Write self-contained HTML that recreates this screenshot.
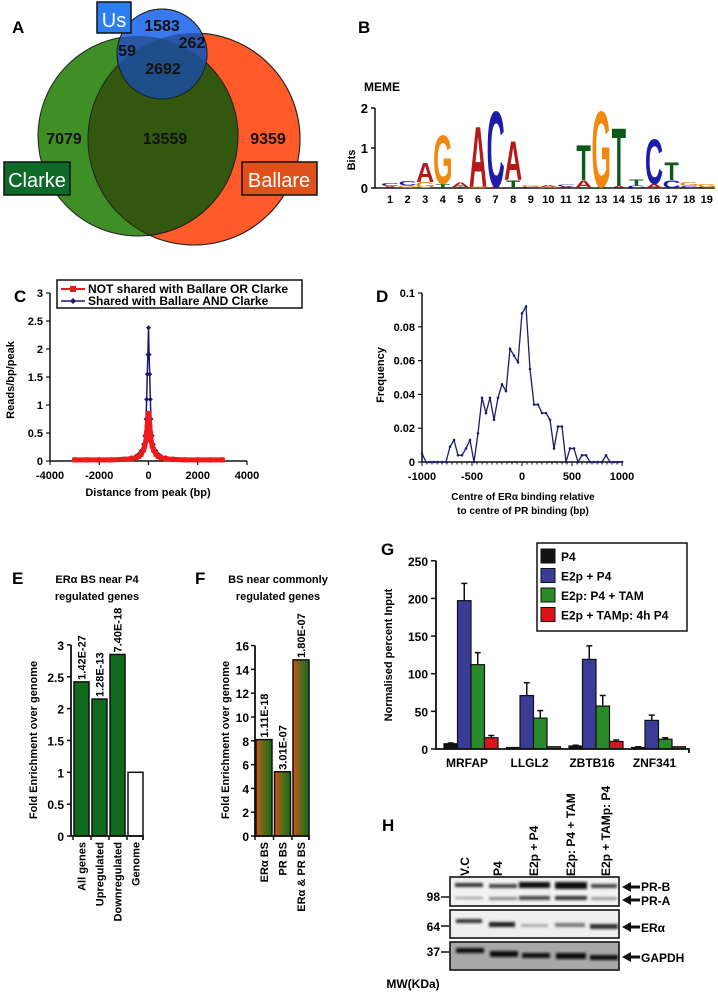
<!DOCTYPE html>
<html><head><meta charset="utf-8">
<style>
html,body{margin:0;padding:0;background:#fff;}
svg{display:block;font-family:"Liberation Sans",Arial,sans-serif;font-weight:bold;}
</style></head>
<body>
<svg id="fig" width="718" height="992" viewBox="0 0 718 992" xmlns="http://www.w3.org/2000/svg">
<defs>
<linearGradient id="gradF" x1="0" x2="1" y1="0" y2="0"><stop offset="0" stop-color="#d8501a"/><stop offset="0.5" stop-color="#5a6a1a"/><stop offset="1" stop-color="#1a6a1a"/></linearGradient>
<clipPath id="clipOrange"><circle cx="194" cy="139" r="106"/></clipPath>
<clipPath id="clipGreen"><circle cx="138" cy="136" r="100"/></clipPath>
<clipPath id="clipUnion"><circle cx="138" cy="136" r="100"/><circle cx="194" cy="139" r="106"/></clipPath>
<filter id="blur1"><feGaussianBlur stdDeviation="1.2"/></filter>
</defs>

<!-- Panel A: Venn -->
<g>
<text x="12" y="33" font-size="17">A</text>
<circle cx="194" cy="139" r="106" fill="#ff5a28" stroke="#222" stroke-width="1"/>
<circle cx="138" cy="136" r="100" fill="#3f8f27" stroke="#222" stroke-width="1"/>
<circle cx="138" cy="136" r="100" fill="#32580f" clip-path="url(#clipOrange)" stroke="#222" stroke-width="1"/>
<circle cx="194" cy="139" r="106" fill="none" stroke="#222" stroke-width="1"/>
<circle cx="162" cy="54" r="45" fill="#3a78f0" stroke="#222" stroke-width="1"/>
<circle cx="162" cy="54" r="45" fill="#2c55a8" clip-path="url(#clipUnion)"/>
<g clip-path="url(#clipGreen)"><circle cx="162" cy="54" r="45" fill="#1f4f8a" clip-path="url(#clipOrange)"/></g>
<circle cx="162" cy="54" r="45" fill="none" stroke="#222" stroke-width="1"/>
<rect x="97" y="2" width="34" height="31" fill="#2a80f0" stroke="#111" stroke-width="1.5"/>
<text x="114" y="27" font-size="20" fill="#fff" text-anchor="middle" font-weight="normal">Us</text>
<rect x="4" y="162" width="66" height="33" fill="#0f6a2a" stroke="#111" stroke-width="1.5"/>
<text x="37" y="187" font-size="20" fill="#fff" text-anchor="middle" font-weight="normal">Clarke</text>
<rect x="242" y="162" width="75" height="33" fill="#e0501a" stroke="#111" stroke-width="1.5"/>
<text x="279" y="187" font-size="20" fill="#fff" text-anchor="middle" font-weight="normal">Ballare</text>
<g font-size="16" fill="#111" text-anchor="middle">
<text x="162" y="31">1583</text>
<text x="127" y="56">59</text>
<text x="192" y="48">262</text>
<text x="163" y="74">2692</text>
<text x="64" y="144">7079</text>
<text x="165" y="144">13559</text>
<text x="268" y="144">9359</text>
</g>
</g>

<!-- Panel B: motif -->
<g id="panelB">
<text x="358" y="33" font-size="17">B</text>
<text x="364" y="91" font-size="12">MEME</text>
<text transform="translate(355,160) rotate(-90)" font-size="11" text-anchor="middle">Bits</text>
</g>

<g id="panelC">
<text x="14" y="302" font-size="17">C</text>
</g>
<g id="panelD">
<text x="376" y="302" font-size="17">D</text>
</g>
<g id="panelE">
<text x="12" y="584" font-size="17">E</text>
<text x="97" y="583" font-size="11" text-anchor="middle">ERα BS near P4</text>
<text x="97" y="600" font-size="11" text-anchor="middle">regulated genes</text>
</g>
<g id="panelF">
<text x="195" y="584" font-size="17">F</text>
<text x="278" y="583" font-size="11" text-anchor="middle">BS near commonly</text>
<text x="278" y="600" font-size="11" text-anchor="middle">regulated genes</text>
</g>
<g id="panelG">
<text x="381" y="555" font-size="17">G</text>
</g>

<!-- Panel H: western blot -->
<g>
<text x="382" y="831" font-size="17">H</text>
<g font-size="12">
<text transform="translate(469,876) rotate(-90)">V.C</text>
<text transform="translate(502,876) rotate(-90)">P4</text>
<text transform="translate(538,876) rotate(-90)">E2p + P4</text>
<text transform="translate(575,876) rotate(-90)">E2p: P4 + TAM</text>
<text transform="translate(610,876) rotate(-90)">E2p + TAMp: P4</text>
</g>
<rect x="450" y="877" width="169" height="29" fill="#f2f2f2" stroke="#111" stroke-width="1.6"/>
<rect x="450" y="910" width="169" height="28" fill="#efefef" stroke="#111" stroke-width="1.6"/>
<rect x="450" y="942" width="169" height="28" fill="#a8a8a8" stroke="#111" stroke-width="1.6"/>
<g filter="url(#blur1)">
<rect x="455" y="883" width="28" height="4" fill="#333"/><rect x="489" y="884" width="28" height="4" fill="#444"/><rect x="519" y="882" width="31" height="6" fill="#111"/><rect x="555" y="882" width="32" height="7" fill="#0a0a0a"/><rect x="591" y="884" width="26" height="4" fill="#444"/>
<rect x="455" y="897" width="28" height="2" fill="#999"/><rect x="489" y="897" width="28" height="3" fill="#888"/><rect x="519" y="896" width="31" height="4" fill="#444"/><rect x="555" y="896" width="32" height="4" fill="#333"/><rect x="591" y="897" width="26" height="3" fill="#999"/>
<rect x="456" y="919" width="26" height="4" fill="#333"/><rect x="489" y="922" width="26" height="5" fill="#222"/><rect x="521" y="924" width="27" height="3" fill="#aaa"/><rect x="555" y="923" width="30" height="4" fill="#777"/><rect x="590" y="924" width="28" height="5" fill="#333"/>
<rect x="456" y="948" width="28" height="5" fill="#111"/><rect x="490" y="951" width="28" height="6" fill="#111"/><rect x="522" y="953" width="28" height="5" fill="#111"/><rect x="556" y="953" width="30" height="6" fill="#111"/><rect x="590" y="955" width="28" height="5" fill="#111"/>
</g>
<g font-size="12" text-anchor="end">
<text x="440" y="901">98</text>
<text x="440" y="931">64</text>
<text x="440" y="956">37</text>
</g>
<path d="M441 897h8M441 926h8M441 952h8" stroke="#111" stroke-width="1.5"/>
<text x="413" y="988" font-size="12" text-anchor="middle">MW(KDa)</text>
<g fill="#111">
<path d="M622 887l9-5v3.5h9v3h-9v3.5z"/><path d="M622 900l9-5v3.5h9v3h-9v3.5z"/>
<path d="M622 927l9-5v3.5h9v3h-9v3.5z"/><path d="M622 957l9-5v3.5h9v3h-9v3.5z"/>
</g>
<g font-size="12">
<text x="641" y="891">PR-B</text>
<text x="641" y="905">PR-A</text>
<text x="641" y="932">ERα</text>
<text x="641" y="962">GAPDH</text>
</g>
</g>
</svg>

<script>
var NS = "http://www.w3.org/2000/svg";
function mk(tag, attrs, parent){ var e=document.createElementNS(NS,tag); for(var k in attrs){e.setAttribute(k,attrs[k]);} (parent||document.getElementById('fig')).appendChild(e); return e; }
function txt(str, attrs, parent){ var e=mk('text',attrs,parent); e.textContent=str; return e; }

/* ---------- Panel B data ---------- */
var motifPositions = [1,2,3,4,5,6,7,8,9,10,11,12,13,14,15,16,17,18,19];
var motifLetters = ["C","C","A","G","A","A","C","A","G","A","C","T","G","T","T","C","T","G","G"];
var motifHeights = [0.08,0.12,0.5,1.25,0.12,1.55,1.95,1.0,0.05,0.04,0.05,0.9,1.95,1.5,0.15,1.15,0.45,0.1,0.08];
var motifSubLetters = ["A","G","G","T","T","G","A","T","C","G","A","A","A","A","C","A","C","C","C"];
var motifSubHeights = [0.05,0.06,0.15,0.1,0.03,0.04,0.03,0.2,0.03,0.03,0.04,0.2,0.03,0.05,0.06,0.1,0.2,0.05,0.03];
var motifYTicks = [0,1,2];

(function(){
  var g=document.getElementById('panelB');
  var x0=390, dx=17.6, yb=188, pxPerBit=40;
  function X(p){return x0+(p-1)*dx;}
  function Y(v){return yb-v*pxPerBit;}
  var colors={A:"#b41a1a",C:"#1c1ca8",G:"#f0890e",T:"#0b5a1c"};
  var ax=mk('path',{d:"M375 "+Y(2)+"V"+yb+"H"+(X(19)+8),stroke:"#111","stroke-width":1.5,fill:"none"},g);
  
  
  motifYTicks.forEach(function(t){
    mk('path',{d:"M371 "+Y(t)+"h4",stroke:"#111","stroke-width":1.5},g);
    var tl=txt(String(t),{x:368,y:Y(t)+5,"font-size":13,"text-anchor":"end"},g);
    
    
  });
  function letter(ch,p,bottom,h){
    if(h<=0) return;
    var sy=h/7.2, sx=(ch==="T"?17:18)/7.2;
    var t=txt(ch,{transform:"translate("+X(p)+","+bottom+") scale("+sx+","+sy+")","font-size":10,"text-anchor":"middle",fill:colors[ch]},g);
    
    
  }
  motifPositions.forEach(function(p,i){
    var hs=motifSubHeights[i]*pxPerBit, hm=motifHeights[i]*pxPerBit;
    letter(motifSubLetters[i],p,yb,hs);
    letter(motifLetters[i],p,yb-hs,hm);
    var tl=txt(String(p),{x:X(p),y:yb+15,"font-size":11,"text-anchor":"middle"},g);
    
    
  });
})();

/* ---------- Panel C data ---------- */
var cSharedX = [-3000,-2500,-2000,-1500,-1000,-700,-500,-400,-300,-200,-150,-100,-75,-50,-25,0,25,50,75,100,150,200,300,400,500,700,1000,1500,2000,2500,3000];
var cSharedY = [0.03,0.03,0.03,0.03,0.04,0.06,0.09,0.12,0.18,0.3,0.45,0.75,1.1,1.55,1.9,2.38,1.9,1.55,1.1,0.75,0.45,0.3,0.18,0.12,0.09,0.06,0.04,0.03,0.03,0.03,0.03];
var cNotSharedX = [-3000,-2500,-2000,-1500,-1000,-700,-500,-400,-300,-200,-150,-100,-75,-50,-25,0,25,50,75,100,150,200,300,400,500,700,1000,1500,2000,2500,3000];
var cNotSharedY = [0.02,0.02,0.02,0.02,0.03,0.04,0.06,0.08,0.12,0.2,0.27,0.38,0.5,0.62,0.78,0.85,0.78,0.62,0.5,0.38,0.27,0.2,0.12,0.08,0.06,0.04,0.03,0.02,0.02,0.02,0.02];
var cYTicks = [0,0.5,1,1.5,2,2.5,3];
var cXTicks = [-4000,-2000,0,2000,4000];

(function(){
  var g=document.getElementById('panelC');
  function X(v){return 148.5+v*(197/8000);}
  function Y(v){return 461-v*56;}
  var ax=mk('path',{d:"M50 "+Y(3)+"V461H247",stroke:"#111","stroke-width":1.5,fill:"none"},g);
  
  
  cYTicks.forEach(function(t){
    mk('path',{d:"M46 "+Y(t)+"h4",stroke:"#111","stroke-width":1.2},g);
    var l=txt(String(t),{x:43,y:Y(t)+4,"font-size":11,"text-anchor":"end"},g);
    
    
  });
  cXTicks.forEach(function(t){
    mk('path',{d:"M"+X(t)+" 461v4",stroke:"#111","stroke-width":1.2},g);
    var l=txt(String(t),{x:X(t),y:479,"font-size":11,"text-anchor":"middle"},g);
    
    
  });
  var xt=txt("Distance from peak (bp)",{x:148,y:496,"font-size":11,"text-anchor":"middle"},g);
  
  
  var yt=txt("Reads/bp/peak",{transform:"translate(14,380) rotate(-90)","font-size":11,"text-anchor":"middle"},g);
  
  
  function pts(xs,ys){return xs.map(function(x,i){return X(x)+","+Y(ys[i]);}).join(" ");}
  var bl=mk('polyline',{points:pts(cSharedX,cSharedY),fill:"none",stroke:"#1a1a6e","stroke-width":1.5},g);
  
  
  cSharedX.forEach(function(x,i){
    var m=mk('path',{d:"M"+X(x)+" "+(Y(cSharedY[i])-2.5)+"l2.5 2.5l-2.5 2.5l-2.5-2.5z",fill:"#1a1a6e"},g);
    
    
  });
  var rl=mk('polyline',{points:pts(cNotSharedX,cNotSharedY),fill:"none",stroke:"#f01a1a","stroke-width":5,"stroke-linejoin":"round"},g);
  
  
  cNotSharedX.forEach(function(x,i){
    var m=mk('rect',{x:X(x)-2.5,y:Y(cNotSharedY[i])-2.5,width:5,height:5,fill:"#f01a1a"},g);
    
    
  });
  var lg=mk('rect',{x:57,y:280,width:245,height:28,fill:"#fff",stroke:"#111","stroke-width":1.5},g);
  
  
  mk('path',{d:"M61 289h24",stroke:"#f01a1a","stroke-width":2},g);
  mk('rect',{x:70,y:286,width:6,height:6,fill:"#f01a1a"},g);
  mk('path',{d:"M61 301h24",stroke:"#1a1a6e","stroke-width":1.5},g);
  mk('path',{d:"M73 298l3 3l-3 3l-3-3z",fill:"#1a1a6e"},g);
  var l1=txt("NOT shared with Ballare OR Clarke",{x:88,y:293,"font-size":12},g);
  
  
  var l2=txt("Shared with Ballare AND Clarke",{x:88,y:305,"font-size":12},g);
  
  
})();

/* ---------- Panel D data ---------- */
var dCentres = [-1000,-960,-920,-880,-840,-800,-760,-720,-680,-640,-600,-560,-520,-480,-440,-400,-360,-320,-280,-240,-200,-160,-120,-80,-40,0,40,80,120,160,200,240,280,320,360,400,440,480,520,560,600,640,680,720,760,800,840,880,920,960,1000];
var dFrequency = [0.005,0,0,0,0,0,0,0.009,0.013,0.004,0.004,0.008,0.013,0,0.017,0.038,0.029,0.038,0.025,0.038,0.046,0.042,0.067,0.063,0.059,0.088,0.092,0.055,0.034,0.034,0.029,0.029,0.025,0.008,0.021,0.021,0,0.008,0.008,0,0.004,0.004,0,0,0,0,0.004,0,0,0,0];
var dYTicks = [0,0.02,0.04,0.06,0.08,0.1];
var dXTicks = [-1000,-500,0,500,1000];

(function(){
  var g=document.getElementById('panelD');
  function X(v){return 522+v*0.1;}
  function Y(v){return 462-v*1690;}
  var ax=mk('path',{d:"M422 "+Y(0.1)+"V462H623",stroke:"#111","stroke-width":1.5,fill:"none"},g);
  
  
  dYTicks.forEach(function(t){
    mk('path',{d:"M418 "+Y(t)+"h4",stroke:"#111","stroke-width":1.2},g);
    var l=txt(String(t),{x:415,y:Y(t)+4,"font-size":11,"text-anchor":"end"},g);
    
    
  });
  for(var v=-1000;v<=1000;v+=50){ mk('path',{d:"M"+X(v)+" 462v"+(v%500===0?4:2.5),stroke:"#111","stroke-width":1},g); }
  dXTicks.forEach(function(t){
    var l=txt(String(t),{x:X(t),y:480,"font-size":11,"text-anchor":"middle"},g);
    
    
  });
  var x1=txt("Centre of ERα binding relative",{x:523,y:500,"font-size":10,"text-anchor":"middle"},g);
  
  
  var x2=txt("to centre of PR binding (bp)",{x:523,y:514,"font-size":10,"text-anchor":"middle"},g);
  
  
  var yt=txt("Frequency",{transform:"translate(384,375) rotate(-90)","font-size":11,"text-anchor":"middle"},g);
  
  
  var p=dCentres.map(function(x,i){return X(x)+","+Y(dFrequency[i]);}).join(" ");
  var ln=mk('polyline',{points:p,fill:"none",stroke:"#1c1c70","stroke-width":1.3},g);
  
  
  dCentres.forEach(function(x,i){
    var m=mk('circle',{cx:X(x),cy:Y(dFrequency[i]),r:1.3,fill:"#1c1c70"},g);
    
    
  });
})();

/* ---------- Panel E data ---------- */
var eCategories = ["All genes","Upregulated","Downregulated","Genome"];
var eValues = [2.42,2.15,2.85,1.0];
var ePValues = ["1.42E-27","1.28E-13","7.40E-18",""];
var eYTicks = [0,0.5,1,1.5,2,2.5,3];

(function(){
  var g=document.getElementById('panelE');
  var y0=836, ppu=63.7, left=72, step=18, bw=15;
  function Y(v){return y0-v*ppu;}
  function X(i){return left+2+i*step;}
  eYTicks.forEach(function(t){
    mk('path',{d:"M67 "+Y(t)+"h4",stroke:"#111","stroke-width":1.5},g);
    var l=txt(String(t),{x:64,y:Y(t)+5,"font-size":12,"text-anchor":"end"},g);
    
    
  });
  eCategories.forEach(function(c,i){
    var b=mk('rect',{x:X(i),y:Y(eValues[i]),width:bw,height:eValues[i]*ppu,fill:(c==="Genome"?"#fff":"#0f6a1e"),stroke:"#111","stroke-width":1.5},g);
    
    
    var l=txt(c,{transform:"translate("+(X(i)+bw/2+4)+",842) rotate(-90)","font-size":11,"text-anchor":"end"},g);
    
    
    if(ePValues[i]){
      var pv=txt(ePValues[i],{transform:"translate("+(X(i)+bw/2+4)+","+(Y(eValues[i])-2)+") rotate(-90)","font-size":11},g);
      
      
    }
    mk('path',{d:"M"+(X(i)-1)+" "+y0+"v4",stroke:"#111","stroke-width":1.5},g);
  });
  var ax=mk('path',{d:"M71 "+Y(3)+"V"+y0+"H143v4",stroke:"#111","stroke-width":1.8,fill:"none"},g);
  
  
  var yt=txt("Fold Enrichment over genome",{transform:"translate(37,740) rotate(-90)","font-size":11,"text-anchor":"middle"},g);
  
  
})();

/* ---------- Panel F data ---------- */
var fCategories = ["ERα BS","PR BS","ERα & PR BS"];
var fValues = [8.1,5.4,14.8];
var fPValues = ["1.11E-18","3.01E-07","1.80E-07"];
var fYTicks = [0,2,4,6,8,10,12,14,16];

(function(){
  var g=document.getElementById('panelF');
  var y0=836, ppu=11.9, step=18.5, bw=16;
  function Y(v){return y0-v*ppu;}
  function X(i){return 256+i*step;}
  fYTicks.forEach(function(t){
    mk('path',{d:"M251 "+Y(t)+"h4",stroke:"#111","stroke-width":1.5},g);
    var l=txt(String(t),{x:249,y:Y(t)+5,"font-size":12,"text-anchor":"end"},g);
    
    
  });
  fCategories.forEach(function(c,i){
    var b=mk('rect',{x:X(i),y:Y(fValues[i]),width:bw,height:fValues[i]*ppu,fill:"url(#gradF)",stroke:"#111","stroke-width":1.5},g);
    
    
    var l=txt(c,{transform:"translate("+(X(i)+bw/2+4)+",842) rotate(-90)","font-size":11,"text-anchor":"end"},g);
    
    
    var pv=txt(fPValues[i],{transform:"translate("+(X(i)+bw/2+4)+","+(Y(fValues[i])-2)+") rotate(-90)","font-size":11},g);
    
    
    mk('path',{d:"M"+(X(i)-1)+" "+y0+"v4",stroke:"#111","stroke-width":1.5},g);
  });
  var ax=mk('path',{d:"M255 "+Y(16)+"V"+y0+"H309v4",stroke:"#111","stroke-width":1.8,fill:"none"},g);
  
  
  var yt=txt("Fold Enrichment over genome",{transform:"translate(229,740) rotate(-90)","font-size":11,"text-anchor":"middle"},g);
  
  
})();

/* ---------- Panel G data ---------- */
var gGenes = ["MRFAP","LLGL2","ZBTB16","ZNF341"];
var gSeries = ["P4","E2p + P4","E2p: P4 + TAM","E2p + TAMp: 4h P4"];
var gP4 = [7,2,4,2];
var gE2pP4 = [197,71,119,38];
var gE2pP4Tam = [112,41,57,13];
var gE2pTamp = [15,3,10,3];
var gErrP4 = [8,2,5,3];
var gErrE2pP4 = [220,88,137,45];
var gErrE2pP4Tam = [128,51,71,15];
var gErrE2pTamp = [18,3,12,3];
var gYTicks = [0,50,100,150,200,250];

(function(){
  var g=document.getElementById('panelG');
  var y0=749, ppu=0.753, bw=13.5;
  var colors=["#111111","#3b3b98","#2a8a2a","#d8161a"];
  var vals=[gP4,gE2pP4,gE2pP4Tam,gE2pTamp];
  var errs=[gErrP4,gErrE2pP4,gErrE2pP4Tam,gErrE2pTamp];
  function Y(v){return y0-v*ppu;}
  function GX(i){return 444+i*62.5;}
  gYTicks.forEach(function(t){
    mk('path',{d:"M431 "+Y(t)+"h5",stroke:"#111","stroke-width":1.5},g);
    var l=txt(String(t),{x:428,y:Y(t)+5,"font-size":12,"text-anchor":"end"},g);
    
    
  });
  gGenes.forEach(function(gene,i){
    for(var s=0;s<4;s++){
      var x=GX(i)+s*bw, v=vals[s][i], e=errs[s][i];
      if(e>v){
        var eb=mk('path',{d:"M"+(x+bw/2)+" "+Y(v)+"V"+Y(e)+"m-3 0h6",stroke:"#111","stroke-width":1.5,fill:"none"},g);
        
        
      }
      var b=mk('rect',{x:x,y:Y(v),width:bw,height:v*ppu,fill:colors[s],stroke:"#111","stroke-width":1.2},g);
      
      
    }
    var l=txt(gene,{x:GX(i)+2*bw-4,y:767,"font-size":12,"text-anchor":"middle"},g);
    
    
  });
  var ax=mk('path',{d:"M436 "+Y(250)+"V"+y0+"H689v4",stroke:"#111","stroke-width":1.8,fill:"none"},g);
  
  
  var yt=txt("Normalised percent Input",{transform:"translate(392,655) rotate(-90)","font-size":11,"text-anchor":"middle"},g);
  
  
  var lg=mk('rect',{x:537,y:543,width:150,height:88,fill:"#fff",stroke:"#111","stroke-width":1.5},g);
  
  
  gSeries.forEach(function(s,i){
    var y=549+i*19.5;
    mk('rect',{x:541,y:y,width:14,height:14,fill:colors[i],stroke:"#111","stroke-width":1},g);
    var l=txt(s,{x:561,y:y+12,"font-size":12},g);
    
    
  });
})();
</script>
</body></html>
